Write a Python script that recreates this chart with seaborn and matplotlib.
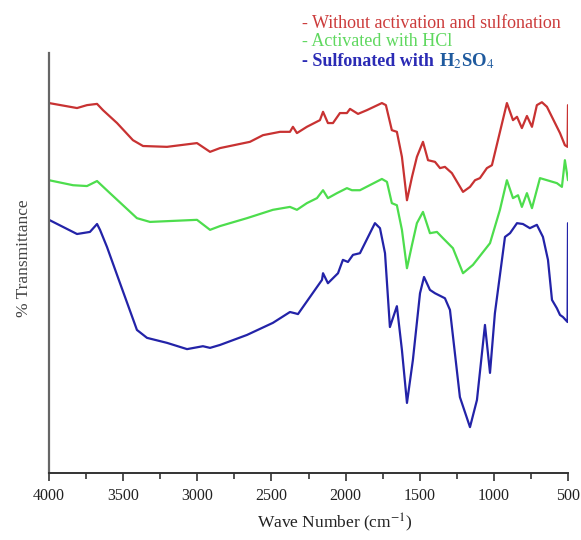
import matplotlib
matplotlib.use("Agg")
import matplotlib.pyplot as plt
from matplotlib.ticker import MultipleLocator
import seaborn as sns
import pandas as pd

# Espectros FTIR (numero de onda en cm-1, transmitancia arbitraria)
NOMBRES = ["Without activation and sulfonation", "Activated with HCl", "Sulfonated with H2SO4"]
COLORES = ["#c83232", "#4ddd4d", "#2323a8"]

onda_rojo = [4000, 3811, 3744, 3676, 3636, 3541, 3434, 3366, 3204, 3002, 2914, 2847, 2645,
             2557, 2442, 2375, 2355, 2328, 2261, 2173, 2152, 2119, 2085, 2038, 1991, 1970,
             1916, 1856, 1755, 1728, 1688, 1654, 1620, 1586, 1552, 1519, 1478, 1444, 1397,
             1363, 1330, 1283, 1208, 1161, 1127, 1094, 1047, 1013, 912, 871, 844, 811, 777,
             743, 710, 676, 642, 575, 554, 521, 503, 500]
trans_rojo = [88.0, 86.8, 87.5, 87.8, 86.3, 83.2, 79.1, 77.7, 77.5, 78.4, 76.3, 77.2, 78.7,
              80.3, 81.1, 81.1, 82.3, 80.8, 82.3, 83.9, 85.9, 83.2, 83.2, 85.6, 85.6, 86.6,
              85.4, 86.3, 88.0, 87.5, 81.5, 81.1, 75.1, 64.7, 70.3, 75.1, 78.7, 74.3, 73.9,
              72.4, 72.7, 71.2, 66.7, 67.9, 69.5, 70.0, 72.4, 73.1, 88.0, 83.9, 84.7, 82.0,
              84.9, 82.3, 87.5, 88.2, 87.1, 82.3, 80.8, 77.9, 77.5, 87.5]

onda_verde = [4000, 3838, 3744, 3676, 3589, 3407, 3319, 3002, 2914, 2847, 2665, 2490, 2375,
              2328, 2261, 2193, 2152, 2119, 2058, 1991, 1957, 1903, 1755, 1721, 1688, 1654,
              1620, 1586, 1552, 1519, 1478, 1431, 1384, 1343, 1276, 1208, 1141, 1026, 959,
              912, 871, 837, 811, 777, 743, 689, 575, 541, 521, 500]
trans_verde = [69.5, 68.3, 68.1, 69.3, 66.4, 60.4, 59.5, 60.0, 57.6, 58.5, 60.4, 62.4, 63.1,
               62.4, 64.0, 65.2, 67.1, 65.2, 66.4, 67.6, 67.1, 67.1, 69.8, 69.1, 64.0, 63.5,
               57.6, 48.4, 54.0, 59.2, 61.9, 56.8, 57.1, 55.6, 53.2, 47.2, 49.2, 54.4, 62.4,
               69.5, 65.2, 65.9, 63.1, 66.4, 62.8, 70.0, 68.8, 67.9, 74.3, 69.5]

onda_azul = [4000, 3811, 3724, 3676, 3656, 3609, 3521, 3407, 3339, 3204, 3069, 2962, 2914,
             2847, 2665, 2490, 2375, 2341, 2321, 2240, 2159, 2152, 2119, 2051, 2018, 1984,
             1950, 1903, 1802, 1768, 1734, 1701, 1654, 1620, 1586, 1546, 1498, 1471, 1431,
             1397, 1330, 1296, 1229, 1161, 1114, 1060, 1026, 993, 925, 891, 844, 804, 757,
             710, 669, 635, 608, 575, 554, 534, 503, 500]
trans_azul = [60.0, 56.6, 57.1, 59.0, 57.6, 53.5, 44.8, 33.6, 31.7, 30.5, 29.0, 29.7, 29.3,
              30.0, 32.4, 35.3, 37.9, 37.6, 37.4, 41.5, 45.6, 47.2, 44.8, 47.2, 50.4, 49.9,
              51.6, 52.0, 59.2, 58.0, 52.0, 34.3, 39.3, 28.8, 16.1, 26.4, 42.4, 46.3, 43.2,
              42.4, 41.2, 38.4, 17.5, 10.3, 16.8, 34.8, 23.3, 37.6, 55.9, 56.8, 59.2, 59.0,
              58.0, 58.8, 55.9, 50.4, 40.8, 38.8, 37.2, 36.7, 35.5, 59.2]

sns.set_theme(style="white")
plt.rcParams['font.family'] = ['Liberation Serif', 'DejaVu Serif']
plt.rcParams['mathtext.fontset'] = 'stix'

tablas = []
for nombre, onda, trans in zip(NOMBRES, [onda_rojo, onda_verde, onda_azul],
                               [trans_rojo, trans_verde, trans_azul]):
    tablas.append(pd.DataFrame({"onda": onda, "trans": trans, "serie": nombre}))
datos = pd.concat(tablas, ignore_index=True)

figura = plt.figure(figsize=(5.81, 5.40), dpi=100)
ax = figura.add_axes([49 / 581, 67 / 540, 519 / 581, 420 / 540])

# sort=False para respetar el orden de lectura (incluye el salto vertical en 500)
sns.lineplot(data=datos, x="onda", y="trans", hue="serie", estimator=None, sort=False,
             palette=COLORES, linewidth=1.6, legend=False, ax=ax)

ax.set_xlim(4000, 500)
ax.set_ylim(-0.7, 100)
ax.xaxis.set_major_locator(MultipleLocator(500))
ax.xaxis.set_minor_locator(MultipleLocator(250))
ax.set_yticks([])
ax.tick_params(axis="x", which="major", direction="out", length=6, width=1.2,
               color="#333333", labelsize=11.5, labelcolor="#222222", pad=5, bottom=True)
ax.tick_params(axis="x", which="minor", direction="out", length=4, width=1.2,
               color="#333333", bottom=True)

for spine in ["top", "right"]:
    ax.spines[spine].set_visible(False)
ax.spines["left"].set_color("#666666")
ax.spines["left"].set_linewidth(1.6)
ax.spines["bottom"].set_color("#333333")
ax.spines["bottom"].set_linewidth(1.4)

ax.set_xlabel(r"Wave Number (cm$^{-1}$)", fontsize=12.5, color="#222222")
ax.xaxis.set_label_coords(0.551, -0.093)
ax.set_ylabel("% Transmittance", fontsize=12.5, color="#444444")
ax.yaxis.set_label_coords(-0.033, 0.512)

# leyenda escrita como texto de colores arriba a la derecha
figura.text(302 / 581, 1 - 23 / 540, "- Without activation and sulfonation", color="#cc3b3b",
            fontsize=13, va="center", ha="left")
figura.text(302 / 581, 1 - 42 / 540, "- Activated with HCl", color="#5fd85f",
            fontsize=13, va="center", ha="left")
texto_azul = figura.text(302 / 581, 1 - 61 / 540, "- Sulfonated with", color="#2b2bb5",
                         fontsize=13, va="center", ha="left", fontweight="bold")
ax.annotate(r"H$_2$SO$_4$", xy=(1, 0.5), xycoords=texto_azul, xytext=(4, 0),
            textcoords="offset points", color="#1f5a9e", fontsize=13.5,
            va="center", ha="left", fontweight="bold", annotation_clip=False)

figura.savefig("out.png", dpi=100, facecolor="white")
plt.close(figura)
